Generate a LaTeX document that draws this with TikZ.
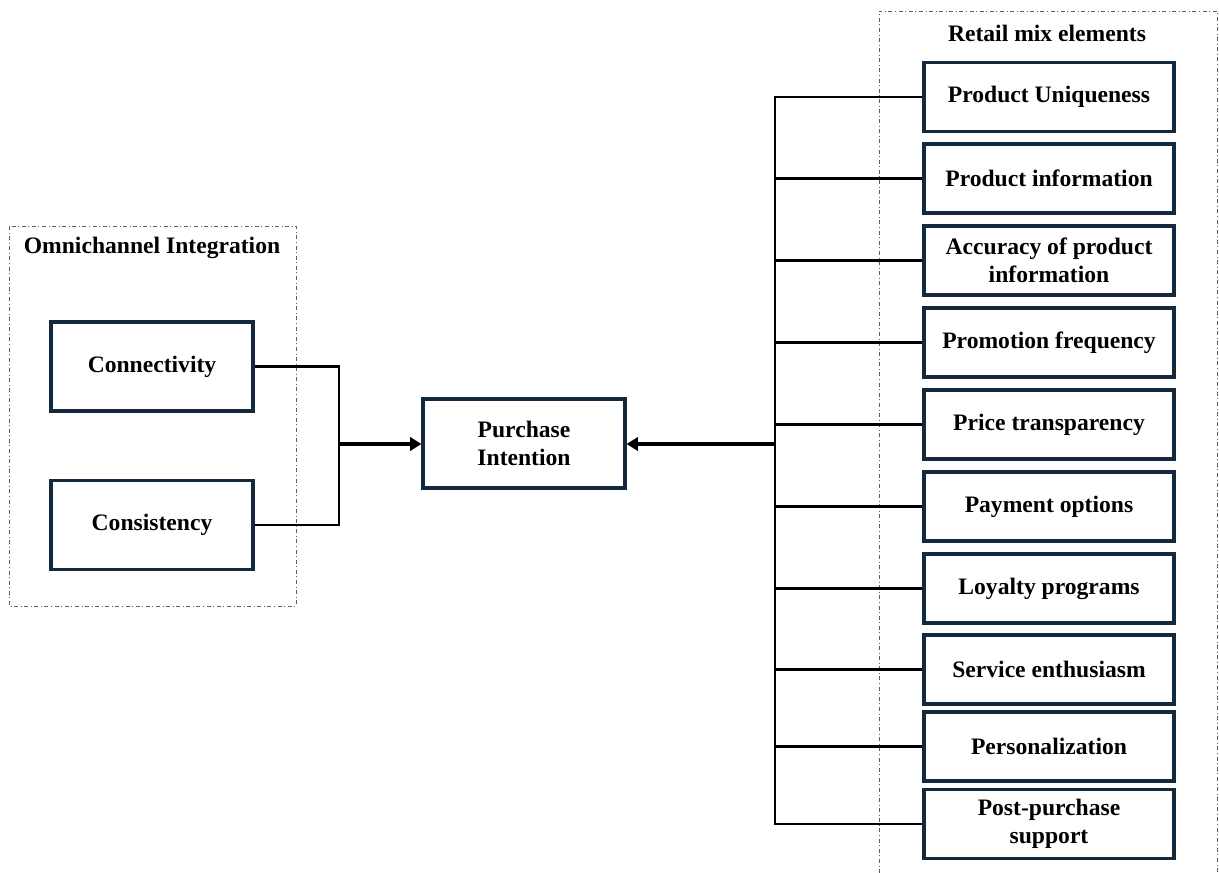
\documentclass[tikz,border=0pt]{standalone}
\usepackage{fontspec}
\setmainfont{Liberation Serif}
\usetikzlibrary{arrows.meta}
\definecolor{boxcol}{HTML}{13293D}
\definecolor{grpcol}{HTML}{4F6273}
\begin{document}
\begin{tikzpicture}[x=0.75pt,y=-0.75pt,
  lbl/.style={font=\fontsize{17.7}{21}\selectfont\bfseries, align=center, inner sep=0pt},
  box/.style={lbl, draw=boxcol, line width=2.4pt, fill=white},
  lbox/.style={box, minimum width=151.5pt, minimum height=66.75pt},
  rbox/.style={box, minimum width=187.5pt, minimum height=51.75pt},
  grp/.style={draw=grpcol, line width=0.6pt, dash dot},
  conn/.style={line width=1.7pt},
  bigarrow/.style={line width=2.6pt, -{Triangle[length=8.5pt,width=10pt]}}]
\useasboundingbox (0,0) rectangle (1219,873);
% group frames
\draw[grp] (9,226) rectangle (296,606);
\draw[grp] (879,873) -- (879,11) -- (1217,11) -- (1217,873);
\node[lbl] (tL) at (152,248) {Omnichannel Integration};
\node[lbl] (tR) at (1047,33) {Retail mix elements};
% left boxes
\node[lbox] (con) at (152,366.5) {Connectivity};
\node[lbox] (cons) at (152,525) {Consistency};
% centre
\node[lbox] (pi) at (524,443.5) {Purchase\\Intention};
% right boxes
\node[rbox] (r1) at (1049,97) {Product Uniqueness};
\node[rbox] (r2) at (1049,178.5) {Product information};
\node[rbox] (r3) at (1049,260.5) {Accuracy of product\\information};
\node[rbox] (r4) at (1049,342.5) {Promotion frequency};
\node[rbox] (r5) at (1049,424.5) {Price transparency};
\node[rbox] (r6) at (1049,506.5) {Payment options};
\node[rbox] (r7) at (1049,588.5) {Loyalty programs};
\node[rbox] (r8) at (1049,669.5) {Service enthusiasm};
\node[rbox] (r9) at (1049,746.5) {Personalization};
\node[rbox] (r10) at (1049,824) {Post-purchase\\support};
% junctions
\coordinate (jL) at (339,444);
\coordinate (jR) at (775,444);
% connectors
\draw[conn] (con.east) -| (jL);
\draw[conn] (cons.east) -| (jL);
\draw[bigarrow] (jL) -- (jL -| pi.west);
\foreach \r in {r1,r2,r3,r4,r5,r6,r7,r8,r9,r10}
  \draw[conn] (\r.west) -| (jR);
\draw[bigarrow] (jR) -- (jR -| pi.east);
\end{tikzpicture}
\end{document}
